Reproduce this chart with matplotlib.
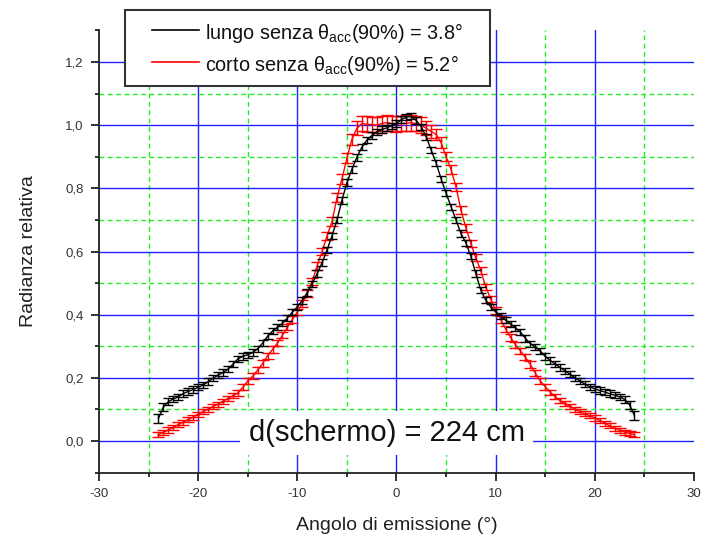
import matplotlib
matplotlib.use("Agg")
import matplotlib.pyplot as plt
from matplotlib.lines import Line2D
from matplotlib.patches import Rectangle
from matplotlib.ticker import MultipleLocator, FuncFormatter

plt.rcParams["font.family"] = ["Liberation Sans", "DejaVu Sans"]
plt.rcParams["mathtext.fontset"] = "custom"
plt.rcParams["mathtext.rm"] = "Liberation Sans"
plt.rcParams["mathtext.it"] = "Liberation Sans"

# Emission angle (degrees)
angles = [-24.0, -23.5, -23.0, -22.5, -22.0, -21.5, -21.0, -20.5, -20.0, -19.5,
          -19.0, -18.5, -18.0, -17.5, -17.0, -16.5, -16.0, -15.5, -15.0, -14.5,
          -14.0, -13.5, -13.0, -12.5, -12.0, -11.5, -11.0, -10.5, -10.0, -9.5,
          -9.0, -8.5, -8.0, -7.5, -7.0, -6.5, -6.0, -5.5, -5.0, -4.5,
          -4.0, -3.5, -3.0, -2.5, -2.0, -1.5, -1.0, -0.5, 0.0, 0.5,
          1.0, 1.5, 2.0, 2.5, 3.0, 3.5, 4.0, 4.5, 5.0, 5.5,
          6.0, 6.5, 7.0, 7.5, 8.0, 8.5, 9.0, 9.5, 10.0, 10.5,
          11.0, 11.5, 12.0, 12.5, 13.0, 13.5, 14.0, 14.5, 15.0, 15.5,
          16.0, 16.5, 17.0, 17.5, 18.0, 18.5, 19.0, 19.5, 20.0, 20.5,
          21.0, 21.5, 22.0, 22.5, 23.0, 23.5, 24.0]

# Relative radiance, long fibre
lungo = [0.072, 0.108, 0.125, 0.133, 0.140, 0.150, 0.157, 0.163, 0.170, 0.177,
         0.188, 0.199, 0.208, 0.217, 0.227, 0.243, 0.260, 0.268, 0.273, 0.280,
         0.292, 0.310, 0.332, 0.348, 0.360, 0.373, 0.390, 0.408, 0.425, 0.445,
         0.470, 0.498, 0.530, 0.565, 0.605, 0.650, 0.700, 0.762, 0.818, 0.860,
         0.898, 0.930, 0.952, 0.967, 0.979, 0.986, 0.991, 0.998, 1.005, 1.018,
         1.025, 1.028, 1.015, 0.995, 0.963, 0.921, 0.880, 0.830, 0.785, 0.742,
         0.700, 0.657, 0.627, 0.585, 0.530, 0.478, 0.446, 0.425, 0.409, 0.396,
         0.383, 0.371, 0.358, 0.345, 0.325, 0.308, 0.298, 0.285, 0.268, 0.255,
         0.244, 0.233, 0.222, 0.212, 0.200, 0.190, 0.180, 0.172, 0.165, 0.160,
         0.155, 0.150, 0.145, 0.140, 0.132, 0.115, 0.080]

# Relative radiance, short fibre
corto = [0.020, 0.028, 0.035, 0.043, 0.052, 0.060, 0.068, 0.076, 0.085, 0.093,
         0.101, 0.109, 0.117, 0.126, 0.135, 0.143, 0.152, 0.170, 0.190, 0.205,
         0.225, 0.245, 0.270, 0.290, 0.310, 0.335, 0.360, 0.385, 0.408, 0.435,
         0.468, 0.505, 0.555, 0.600, 0.650, 0.695, 0.770, 0.830, 0.895, 0.955,
         0.990, 1.005, 1.003, 1.002, 1.000, 1.005, 1.008, 1.005, 1.003, 1.005,
         1.006, 1.008, 1.005, 1.000, 0.990, 0.980, 0.970, 0.945, 0.900, 0.860,
         0.805, 0.731, 0.675, 0.625, 0.580, 0.540, 0.488, 0.450, 0.413, 0.385,
         0.355, 0.328, 0.305, 0.285, 0.265, 0.242, 0.215, 0.190, 0.172, 0.155,
         0.140, 0.128, 0.118, 0.110, 0.100, 0.093, 0.086, 0.080, 0.073, 0.065,
         0.057, 0.048, 0.040, 0.034, 0.028, 0.024, 0.020]

# Uncertainties
err_lungo = [0.014, 0.012, 0.010, 0.010, 0.010, 0.010, 0.010, 0.010, 0.010, 0.010,
             0.010, 0.010, 0.010, 0.010, 0.010, 0.010, 0.010, 0.010, 0.010, 0.010,
             0.010, 0.010, 0.010, 0.010, 0.010, 0.010, 0.010, 0.010, 0.010, 0.010,
             0.010, 0.010, 0.010, 0.010, 0.010, 0.010, 0.010, 0.010, 0.010, 0.010,
             0.010, 0.010, 0.010, 0.010, 0.010, 0.010, 0.010, 0.010, 0.010, 0.010,
             0.010, 0.010, 0.010, 0.010, 0.010, 0.010, 0.010, 0.010, 0.010, 0.010,
             0.010, 0.010, 0.010, 0.010, 0.010, 0.010, 0.010, 0.010, 0.010, 0.010,
             0.010, 0.010, 0.010, 0.010, 0.010, 0.010, 0.010, 0.010, 0.010, 0.010,
             0.010, 0.010, 0.010, 0.010, 0.010, 0.010, 0.010, 0.010, 0.010, 0.010,
             0.010, 0.010, 0.010, 0.010, 0.010, 0.012, 0.014]
err_corto = [0.008, 0.008, 0.008, 0.008, 0.008, 0.008, 0.008, 0.008, 0.008, 0.008,
             0.008, 0.008, 0.008, 0.008, 0.008, 0.008, 0.008, 0.009, 0.009, 0.009,
             0.010, 0.010, 0.010, 0.010, 0.010, 0.010, 0.010, 0.010, 0.010, 0.010,
             0.011, 0.011, 0.012, 0.012, 0.013, 0.013, 0.014, 0.015, 0.016, 0.018,
             0.022, 0.025, 0.025, 0.025, 0.025, 0.025, 0.025, 0.025, 0.025, 0.025,
             0.025, 0.025, 0.025, 0.025, 0.022, 0.020, 0.018, 0.016, 0.015, 0.014,
             0.013, 0.013, 0.012, 0.012, 0.011, 0.011, 0.010, 0.010, 0.010, 0.010,
             0.010, 0.010, 0.010, 0.010, 0.010, 0.010, 0.009, 0.009, 0.009, 0.008,
             0.008, 0.008, 0.008, 0.008, 0.008, 0.008, 0.008, 0.008, 0.008, 0.008,
             0.008, 0.008, 0.008, 0.008, 0.008, 0.008, 0.008]

series_labels = [r"lungo senza $\mathregular{\theta_{acc}}$(90%) = 3.8°",
                 r"corto senza $\mathregular{\theta_{acc}}$(90%) = 5.2°"]
series_colors = ["black", "#ff0000"]
annotation = "d(schermo) = 224 cm"

W, H = 703, 542
fig = plt.figure(figsize=(W / 100, H / 100), dpi=100)
ax = fig.add_axes([0.1408, 0.128, 0.8464, 0.8159])

ax.set_xlim(-30, 30)
ax.set_ylim(-0.1, 1.3)

# Grid drawn explicitly: blue solid on major, green dashed on minor
for gx in [-20, -10, 0, 10, 20]:
    ax.axvline(gx, color="#2020ff", lw=1.0, zorder=1)
for gx in [-25, -15, -5, 5, 15, 25]:
    ax.axvline(gx, color="#22ee22", lw=1.0, ls=(0, (3.5, 2.5)), zorder=1)
for gy in [0.0, 0.2, 0.4, 0.6, 0.8, 1.0, 1.2]:
    ax.axhline(gy, color="#2020ff", lw=1.0, zorder=1)
for gy in [0.1, 0.3, 0.5, 0.7, 0.9, 1.1]:
    ax.axhline(gy, color="#22ee22", lw=1.0, ls=(0, (3.5, 2.5)), zorder=1)

ax.errorbar(angles, lungo, yerr=err_lungo, color=series_colors[0], lw=1.0,
            elinewidth=1.0, capsize=3.5, capthick=1.0, zorder=4)
ax.errorbar(angles, corto, yerr=err_corto, color=series_colors[1], lw=1.0,
            elinewidth=1.0, capsize=4.0, capthick=1.0, zorder=3)

ax.text(-1.0, 0.025, annotation, fontsize=21, ha="center", va="center",
        color="#111111", zorder=6,
        bbox=dict(boxstyle="square,pad=0.28", fc="white", ec="none"))

# Axes styling
for side in ["top", "right"]:
    ax.spines[side].set_visible(False)
for side in ["left", "bottom"]:
    ax.spines[side].set_color("#222222")
    ax.spines[side].set_linewidth(1.3)

ax.xaxis.set_major_locator(MultipleLocator(10))
ax.xaxis.set_minor_locator(MultipleLocator(5))
ax.yaxis.set_major_locator(MultipleLocator(0.2))
ax.yaxis.set_minor_locator(MultipleLocator(0.1))
ax.xaxis.set_major_formatter(FuncFormatter(lambda v, p: f"{int(round(v))}"))
ax.yaxis.set_major_formatter(FuncFormatter(lambda v, p: f"{v:.1f}".replace(".", ",")))
ax.tick_params(which="major", direction="out", length=6, width=1.3,
               color="#222222", labelsize=9.5, labelcolor="#333333", pad=5)
ax.tick_params(which="minor", direction="out", length=3, width=1.3,
               color="#222222")

ax.set_xlabel("Angolo di emissione (°)", fontsize=14, color="#222222", labelpad=12)
ax.set_ylabel("Radianza relativa", fontsize=14, color="#222222", labelpad=20)

# Legend box, laid out in figure pixels
def fx(px):
    return px / W

def fy(py):
    return 1 - py / H

fig.add_artist(Rectangle((fx(125), fy(86)), fx(490) - fx(125), fy(10) - fy(86),
                         transform=fig.transFigure, facecolor="white",
                         edgecolor="#333333", lw=1.5, zorder=10))
for row_y, lab, col in zip([30, 62], series_labels, series_colors):
    fig.add_artist(Line2D([fx(152), fx(199)], [fy(row_y), fy(row_y)],
                          transform=fig.transFigure, color=col, lw=1.2,
                          zorder=11))
    fig.text(fx(205), fy(row_y), lab, fontsize=14.3, ha="left",
             va="center_baseline", color="#111111", zorder=11)

fig.savefig("out.png", dpi=100)
